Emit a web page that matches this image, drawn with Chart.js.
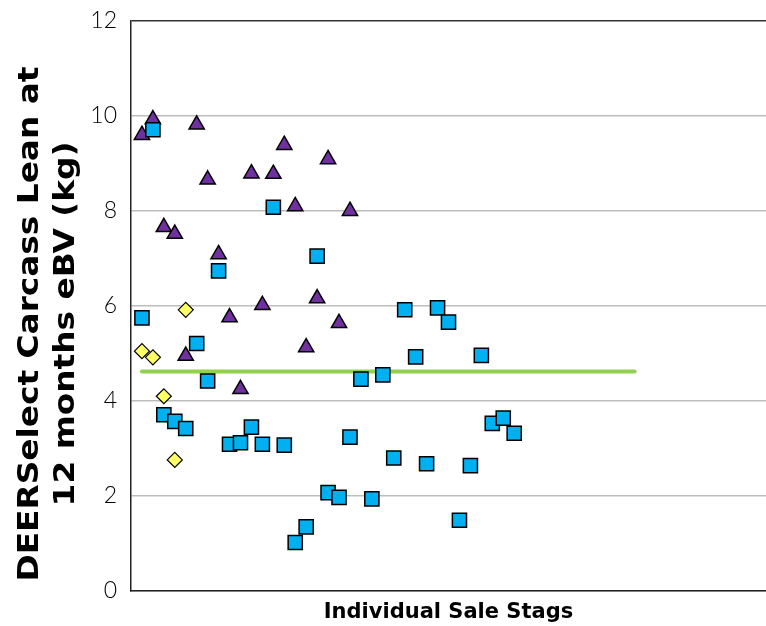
<!DOCTYPE html>
<html>
<head>
<meta charset="utf-8">
<script src="https://cdn.jsdelivr.net/npm/chart.js@4.4.1/dist/chart.umd.min.js"></script>
<style>
  body { margin: 0; background: #fff; }
  #wrap { width: 766px; height: 626px; position: relative; }
</style>
</head>
<body>
<div id="wrap"><canvas id="stag-chart"></canvas></div>
<script>
// eBV values per stag (stag number = position in array + 1)
const triangleVals = [9.60, 9.93, 7.66, 7.52, 4.95, 9.82, 8.66, 7.09, 5.76, 4.25,
                      8.79, 6.02, 8.78, 9.39, 8.10, 5.13, 6.16, 9.09, 5.64, 8.00];
const squareVals = [5.75, 9.71, 3.71, 3.57, 3.42, 5.21, 4.42, 6.74, 3.09, 3.12,
                    3.45, 3.09, 8.08, 3.07, 1.02, 1.35, 7.05, 2.07, 1.97, 3.24,
                    4.46, 1.94, 4.55, 2.80, 5.92, 4.93, 2.68, 5.96, 5.66, 1.49,
                    2.64, 4.96, 3.53, 3.64, 3.32];
const diamondVals = [5.05, 4.92, 4.10, 2.76, 5.92];
const averageVal = 4.62;
const averageRange = [1, 46];
const yTicks = [0, 2, 4, 6, 8, 10, 12];
const yTitle = ['DEERSelect Carcass Lean at', '12 months eBV (kg)'];
const xTitle = 'Individual Sale Stags';

function toPoints(vals) {
    return vals.map((v, i) => ({x: i + 1, y: v}));
}

// y title drawn by hand so it sits where the original has it
const yTitlePlugin = {
    id: 'yTitle',
    afterDraw(chart) {
        const ctx = chart.ctx;
        ctx.save();
        ctx.fillStyle = '#000';
        ctx.font = 'bold 29px "DejaVu Sans"';
        ctx.textAlign = 'center';
        ctx.textBaseline = 'middle';
        ctx.translate(0, 324);
        ctx.rotate(-Math.PI / 2);
        ctx.scale(1.13, 1); // original face is wider
        ctx.fillText(yTitle[0], 0, 30);
        ctx.fillText(yTitle[1], 0, 66);
        ctx.restore();
    }
};

function loadStagChart() {
    const ctx = document.getElementById('stag-chart').getContext('2d');
    new Chart(ctx, {
        type: 'scatter',
        data: {
            datasets: [{
                label: 'Group A',
                data: toPoints(diamondVals),
                pointStyle: 'rectRot',
                pointRadius: 7.5,
                pointHoverRadius: 7.5,
                backgroundColor: '#FFFF66',
                borderColor: '#000',
                borderWidth: 1.2
            }, {
                label: 'Group B',
                data: toPoints(squareVals),
                pointStyle: 'rect',
                pointRadius: 10,
                pointHoverRadius: 10,
                backgroundColor: '#00B0F0',
                borderColor: '#000',
                borderWidth: 1.5
            }, {
                label: 'Group C',
                data: toPoints(triangleVals),
                pointStyle: 'triangle',
                pointRadius: 8.8,
                pointHoverRadius: 8.8,
                backgroundColor: '#7030A0',
                borderColor: '#000',
                borderWidth: 1.5
            }, {
                label: 'Average',
                type: 'line',
                data: averageRange.map((x) => ({x: x, y: averageVal})),
                showLine: true,
                pointRadius: 0,
                borderColor: '#92D050',
                borderWidth: 4,
                borderCapStyle: 'round'
            }]
        },
        options: {
            responsive: true,
            maintainAspectRatio: false,
            animation: false,
            layout: {autoPadding: false, padding: {top: 21, right: 0, left: 0, bottom: 0}},
            plugins: {
                legend: {display: false},
                tooltip: {enabled: false}
            },
            scales: {
                x: {
                    type: 'linear',
                    min: 0,
                    max: 58,
                    grid: {display: false, drawTicks: false},
                    border: {color: '#222', width: 1.5},
                    ticks: {display: false},
                    title: {
                        display: true,
                        text: xTitle,
                        color: '#000',
                        font: {family: 'DejaVu Sans', size: 21, weight: 'bold'},
                        padding: {top: 0, bottom: 1}
                    },
                    afterFit: (scale) => { scale.height = 35; }
                },
                y: {
                    min: 0,
                    max: 12,
                    afterBuildTicks: (scale) => { scale.ticks = yTicks.map((v) => ({value: v})); },
                    grid: {
                        drawTicks: false,
                        color: (c) => c.tick && c.tick.value === 12 ? '#333' : '#BDBDBD',
                        lineWidth: 1.5
                    },
                    border: {color: '#222', width: 1.5},
                    ticks: {
                        color: '#000',
                        padding: 14,
                        font: {family: 'Lato', size: 23, weight: '300'}
                    },
                    afterFit: (scale) => {
                        scale.width = 131;
                        scale.paddingTop = 0;
                        scale.paddingBottom = 0;
                    }
                }
            }
        },
        plugins: [yTitlePlugin]
    });
}

window.addEventListener('load', () => {
    loadStagChart();
});
</script>
</body>
</html>
